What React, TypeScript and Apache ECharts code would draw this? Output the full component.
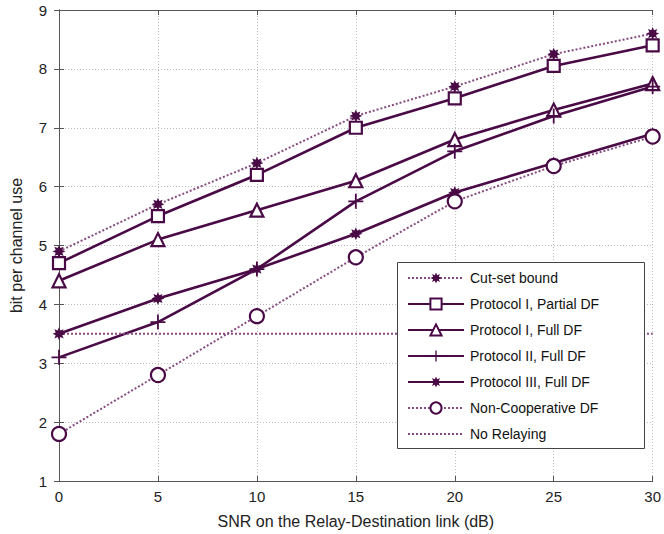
import React, { useEffect, useRef } from "react";
import * as echarts from "echarts";

const snr = [0, 5, 10, 15, 20, 25, 30];
const cutSet = [4.9, 5.7, 6.4, 7.2, 7.7, 8.25, 8.6];
const p1Partial = [4.7, 5.5, 6.2, 7.0, 7.5, 8.05, 8.4];
const p1Full = [4.4, 5.1, 5.6, 6.1, 6.8, 7.3, 7.75];
const p2Full = [3.1, 3.7, 4.6, 5.75, 6.6, 7.2, 7.7];
const p3Full = [3.5, 4.1, 4.6, 5.2, 5.9, 6.4, 6.9];
const nonCoop = [1.8, 2.8, 3.8, 4.8, 5.75, 6.35, 6.85];
const noRelay = [3.5, 3.5, 3.5, 3.5, 3.5, 3.5, 3.5];
const yTicks = [1, 2, 3, 4, 5, 6, 7, 8, 9];

const names = [
  "Cut-set bound",
  "Protocol I, Partial DF",
  "Protocol I, Full DF",
  "Protocol II, Full DF",
  "Protocol III, Full DF",
  "Non-Cooperative DF",
  "No Relaying",
];

const DARK = "#4a0a46";
const DOT = "#874a82";

function starPath(n: number, ro: number, ri: number): string {
  const pts: string[] = [];
  for (let i = 0; i < 2 * n; i++) {
    const r = i % 2 === 0 ? ro : ri;
    const a = (Math.PI * i) / n - Math.PI / 2;
    pts.push(`${(10 + r * Math.cos(a)).toFixed(2)},${(10 + r * Math.sin(a)).toFixed(2)}`);
  }
  return "path://M" + pts.join("L") + "Z";
}
const STAR = starPath(8, 10, 5.5);
const PLUS = "path://M8.8,0H11.2V8.8H20V11.2H11.2V20H8.8V11.2H0V8.8H8.8Z";

export default function App() {
  const ref = useRef<HTMLDivElement>(null);
  useEffect(() => {
    if (!ref.current) return;
    const chart = echarts.init(ref.current, undefined, { renderer: "svg" });
    const pairs = (ys: number[]) => snr.map((x, i) => [x, ys[i]]);
    const font = "'Liberation Sans', Arial, sans-serif";
    const mk = (
      name: string,
      ys: number[],
      symbol: string,
      size: number,
      dotted: boolean,
      hollow: boolean,
      hidden = false
    ) => ({
      name,
      type: "line",
      data: pairs(ys),
      symbol,
      symbolSize: size,
      showSymbol: !hidden,
      z: 3,
      lineStyle: {
        color: dotted ? DOT : DARK,
        width: dotted ? 2 : 2.6,
        type: dotted ? [2, 2] : "solid",
      },
      itemStyle: hidden
        ? { color: "rgba(0,0,0,0)", borderWidth: 0 }
        : {
            color: hollow ? "#ffffff" : DARK,
            borderColor: DARK,
            borderWidth: hollow ? 2.2 : 0,
            opacity: 1,
          },
      emphasis: { disabled: true },
    });
    const axisCommon = {
      axisLine: { show: true, lineStyle: { color: "#555", width: 1 } },
      axisTick: { show: true, inside: true, length: 5, lineStyle: { color: "#555" } },
    };
    chart.setOption({
      animation: false,
      backgroundColor: "#ffffff",
      textStyle: { fontFamily: font },
      grid: { left: 59, right: 7, top: 10, bottom: 52, containLabel: false },
      xAxis: [
        {
          type: "value",
          min: 0,
          max: 30,
          interval: 5,
          name: "SNR on the Relay-Destination link (dB)",
          nameLocation: "middle",
          nameGap: 32,
          nameTextStyle: { fontSize: 16, color: "#222", fontFamily: font },
          axisLabel: { fontSize: 15, color: "#222", margin: 8, fontFamily: font },
          splitLine: { show: true, lineStyle: { color: "#bdbdbd", type: [1, 2], width: 1 } },
          ...axisCommon,
        },
        {
          type: "value",
          position: "top",
          min: 0,
          max: 30,
          interval: 5,
          axisLabel: { show: false },
          splitLine: { show: false },
          ...axisCommon,
        },
      ],
      yAxis: [
        {
          type: "value",
          min: yTicks[0],
          max: yTicks[yTicks.length - 1],
          interval: 1,
          name: "bit per channel use",
          nameLocation: "middle",
          nameGap: 35,
          nameRotate: 90,
          nameTextStyle: { fontSize: 16, color: "#222", fontFamily: font },
          axisLabel: { fontSize: 15, color: "#222", margin: 12, fontFamily: font },
          splitLine: { show: true, lineStyle: { color: "#bdbdbd", type: [1, 2], width: 1 } },
          ...axisCommon,
        },
        {
          type: "value",
          position: "right",
          min: yTicks[0],
          max: yTicks[yTicks.length - 1],
          interval: 1,
          axisLabel: { show: false },
          splitLine: { show: false },
          ...axisCommon,
        },
      ],
      legend: {
        orient: "vertical",
        left: 407,
        top: 271,
        padding: 0,
        itemWidth: 56,
        itemHeight: 14,
        itemGap: 12,
        z: 5,
        selectedMode: false,
        textStyle: { fontSize: 14, color: "#111", fontFamily: font, padding: [0, 0, 0, 1] },
        data: names,
      },
      graphic: [
        {
          type: "rect",
          z: 4,
          shape: { x: 397.5, y: 262.5, width: 247, height: 186 },
          style: { fill: "#ffffff", stroke: "#444", lineWidth: 1 },
        },
      ],
      series: [
        mk(names[0], cutSet, STAR, 13, true, false),
        mk(names[1], p1Partial, "rect", 12, false, true),
        mk(names[2], p1Full, "triangle", 13, false, true),
        mk(names[3], p2Full, PLUS, 15, false, false),
        mk(names[4], p3Full, STAR, 13, false, false),
        mk(names[5], nonCoop, "circle", 14, true, true),
        mk(names[6], noRelay, "circle", 0, true, false, true),
      ],
    });
    return () => chart.dispose();
  }, []);
  return (
    <div
      ref={ref}
      style={{ position: "absolute", left: 0, top: 0, width: 664, height: 534 }}
    />
  );
}
